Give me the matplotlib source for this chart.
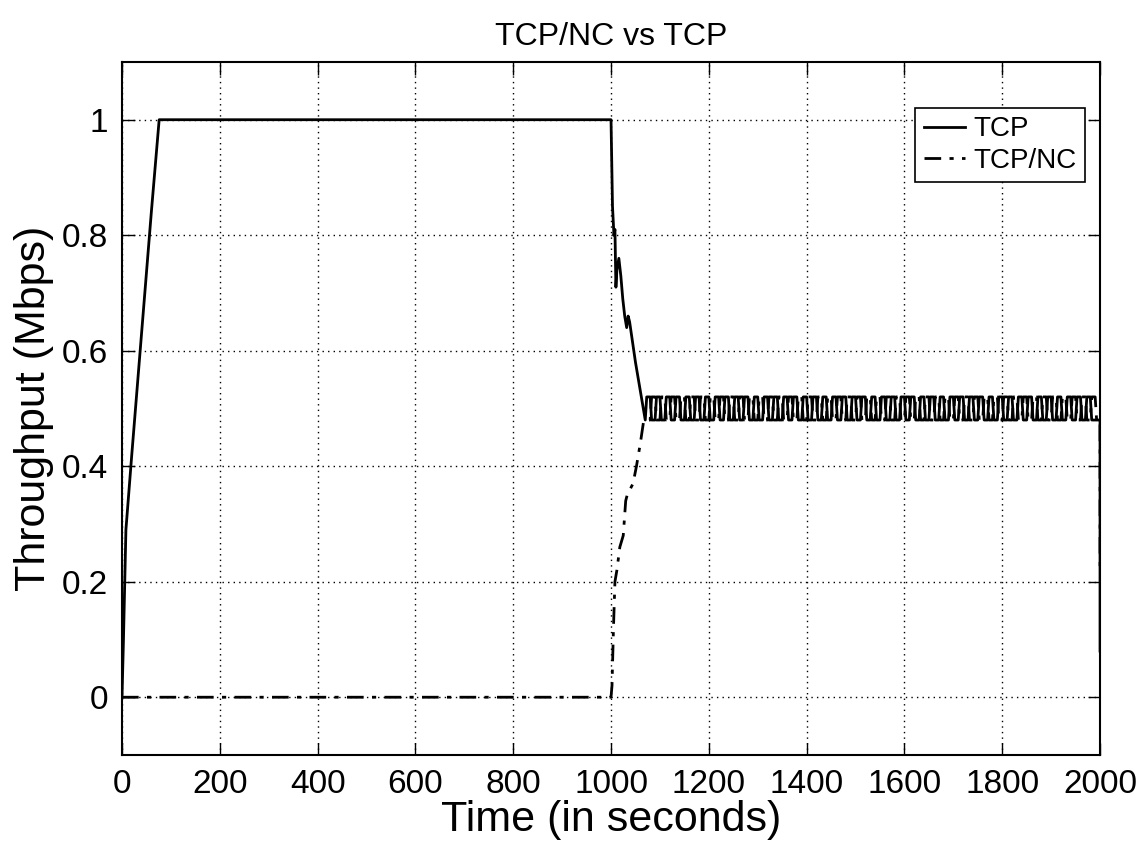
import numpy as np
import matplotlib.pyplot as plt

plt.rcParams['font.family'] = ['Liberation Sans', 'DejaVu Sans']

# TCP: start-up ramp, flat at 1 Mbps, drop after t=1000 s
tcp_t = [0, 3, 8, 20, 40, 60, 76, 1000, 1003, 1006, 1008, 1010, 1012,
         1016, 1020, 1024, 1028, 1032, 1035, 1038, 1050, 1060, 1070]
tcp_v = [0, 0.10, 0.29, 0.42, 0.63, 0.84, 1.0, 1.0, 0.85, 0.80, 0.81, 0.71, 0.74,
         0.76, 0.73, 0.69, 0.66, 0.64, 0.66, 0.65, 0.58, 0.53, 0.48]

# TCP/NC: idle until t=1000 s, then climbs to the shared rate
nc_t = [0, 1000, 1002, 1005, 1008, 1012, 1018, 1025, 1030, 1033, 1039,
        1045, 1052, 1060, 1067]
nc_v = [0, 0, 0.02, 0.12, 0.20, 0.22, 0.26, 0.28, 0.34, 0.35, 0.36,
        0.37, 0.40, 0.44, 0.48]

# steady-state sawing between ~0.48 and ~0.52 (one observed cycle, 20 s)
cycle_t = [0, 3, 10, 13]
cycle_v = [0.48, 0.52, 0.52, 0.48]
osc_start = 1070
n_cycles = 46
period = 20

# last sample at t=2000 s
tcp_end = 0.08
nc_end = 0.22


def steady(t0, shift):
    t, v = [], []
    for k in range(n_cycles):
        for ct, cv in zip(cycle_t, cycle_v):
            tt = t0 + shift + k * period + ct
            if tt < 2000:
                t.append(tt)
                v.append(cv)
    return t, v


st, sv = steady(osc_start, 0)
tcp_x = np.array(tcp_t + st + [2000, 2000])
tcp_y = np.array(tcp_v + sv + [sv[-1], tcp_end])

st2, sv2 = steady(osc_start, 10)
nc_x = np.array(nc_t + st2 + [2000, 2000])
nc_y = np.array(nc_v + sv2 + [sv2[-1], nc_end])

fig = plt.figure(figsize=(11.37, 8.5), dpi=100)
ax = fig.add_axes([0.1073, 0.1118, 0.8602, 0.8153])

ax.plot(tcp_x, tcp_y, '-', color='black', lw=2, label='TCP')
ax.plot(nc_x, nc_y, color='black', lw=2, dashes=(6, 3, 1.5, 3), label='TCP/NC')

ax.set_xlim(0, 2000)
ax.set_ylim(-0.1, 1.1)
ax.set_xticks(np.arange(0, 2001, 200))
ax.set_yticks([0, 0.2, 0.4, 0.6, 0.8, 1])
ax.set_yticklabels(['0', '0.2', '0.4', '0.6', '0.8', '1'])

ax.grid(True, linestyle=(0, (1, 3)), color='black', lw=1)
ax.tick_params(direction='in', length=9, width=1, top=True, right=True,
               labelsize=24, pad=10)
for s in ax.spines.values():
    s.set_linewidth(1.5)

ax.set_xlabel('Time (in seconds)', fontsize=31, labelpad=0)
ax.set_ylabel('Throughput (Mbps)', fontsize=31, labelpad=6)
ax.set_title('TCP/NC vs TCP', fontsize=23, pad=12)

leg = ax.legend(loc='upper right', bbox_to_anchor=(0.9847, 0.9336),
                borderaxespad=0, fontsize=20, fancybox=False, framealpha=1,
                edgecolor='black', handlelength=1.5, handletextpad=0.3,
                borderpad=0.3, labelspacing=0.2)
leg.get_frame().set_linewidth(1.2)

fig.savefig('out.png', dpi=100)
